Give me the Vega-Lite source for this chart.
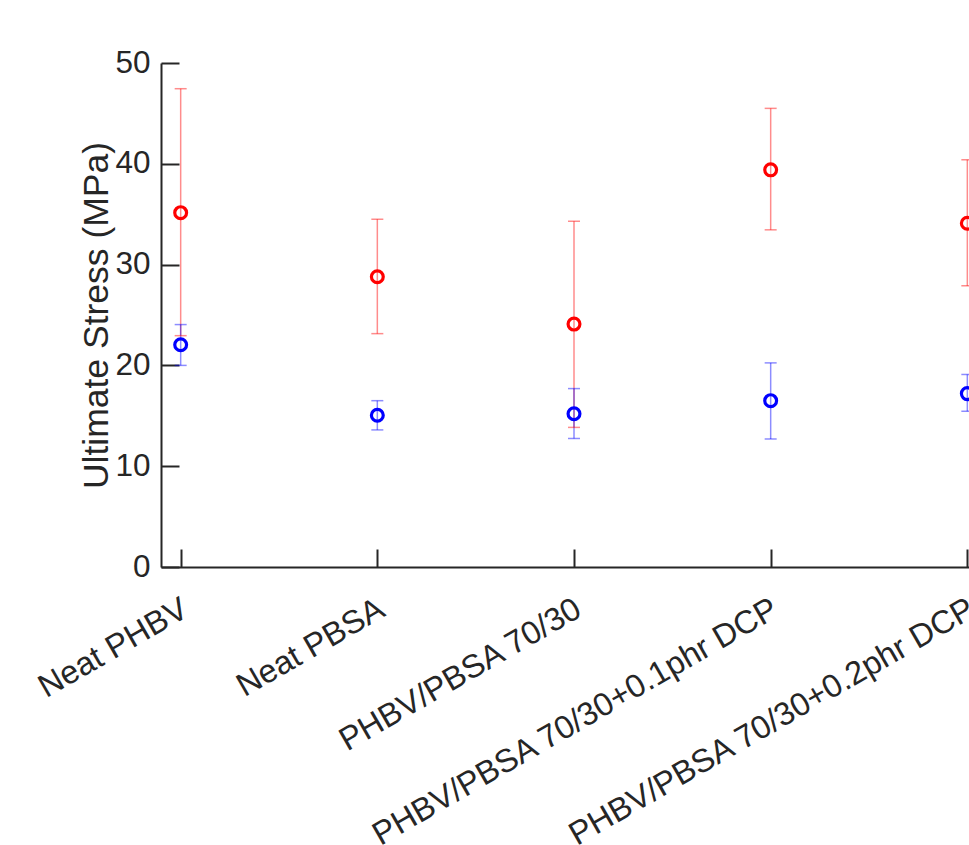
{
  "$schema": "https://vega.github.io/schema/vega-lite/v6.json",
  "width": 826,
  "height": 504,
  "autosize": {"type": "none"},
  "padding": {"left": 161, "top": 63, "right": -18, "bottom": 278},
  "background": "white",
  "config": {"view": {"stroke": null}, "font": "Liberation Sans"},
  "data": {
    "values": [
      {"sample": "Neat PHBV", "series": "Series 1", "mean": 35.15, "lo": 22.95, "hi": 47.45},
      {"sample": "Neat PHBV", "series": "Series 2", "mean": 22.05, "lo": 20.0, "hi": 24.05},
      {"sample": "Neat PBSA", "series": "Series 1", "mean": 28.8, "lo": 23.15, "hi": 34.5},
      {"sample": "Neat PBSA", "series": "Series 2", "mean": 15.05, "lo": 13.6, "hi": 16.5},
      {"sample": "PHBV/PBSA 70/30", "series": "Series 1", "mean": 24.1, "lo": 13.85, "hi": 34.3},
      {"sample": "PHBV/PBSA 70/30", "series": "Series 2", "mean": 15.2, "lo": 12.75, "hi": 17.7},
      {"sample": "PHBV/PBSA 70/30+0.1phr DCP", "series": "Series 1", "mean": 39.4, "lo": 33.45, "hi": 45.5},
      {"sample": "PHBV/PBSA 70/30+0.1phr DCP", "series": "Series 2", "mean": 16.5, "lo": 12.7, "hi": 20.25},
      {"sample": "PHBV/PBSA 70/30+0.2phr DCP", "series": "Series 1", "mean": 34.1, "lo": 27.9, "hi": 40.4},
      {"sample": "PHBV/PBSA 70/30+0.2phr DCP", "series": "Series 2", "mean": 17.2, "lo": 15.45, "hi": 19.1}
    ]
  },
  "encoding": {
    "x": {
      "field": "sample",
      "type": "nominal",
      "sort": null,
      "scale": {"type": "point", "padding": 0.1},
      "axis": {
        "title": null,
        "grid": false,
        "domainColor": "#262626",
        "domainWidth": 2,
        "tickColor": "#262626",
        "tickWidth": 2,
        "tickSize": -18,
        "labelAngle": -30,
        "labelAlign": "right",
        "labelBaseline": "middle",
        "labelFontSize": 32.5,
        "labelColor": "#262626",
        "labelPadding": 57,
        "labelOffset": 4,
        "labelLimit": 0,
        "labelOverlap": false
      }
    },
    "color": {
      "field": "series",
      "type": "nominal",
      "scale": {"domain": ["Series 1", "Series 2"], "range": ["#ff0000", "#0000ff"]},
      "legend": null
    }
  },
  "layer": [
    {
      "mark": {"type": "rule", "strokeWidth": 1.5, "opacity": 0.45},
      "encoding": {
        "y": {
          "field": "lo",
          "type": "quantitative",
          "scale": {"domain": [0, 50], "nice": false},
          "axis": {
            "title": "Ultimate Stress (MPa)",
            "values": [0, 10, 20, 30, 40, 50],
            "grid": false,
            "domainColor": "#262626",
            "domainWidth": 2,
            "tickColor": "#262626",
            "tickWidth": 2,
            "tickSize": -18,
            "labelFontSize": 31.5,
            "labelColor": "#262626",
            "labelPadding": 29,
            "titleFontSize": 35.5,
            "titleFontWeight": "normal",
            "titleColor": "#262626",
            "titleAngle": -90,
            "titleBaseline": "alphabetic",
            "titleAlign": "center",
            "titleX": -54,
            "titleY": 252
          }
        },
        "y2": {"field": "hi"}
      }
    },
    {
      "mark": {"type": "tick", "size": 12, "thickness": 1.5, "opacity": 0.45},
      "encoding": {"y": {"field": "lo", "type": "quantitative"}}
    },
    {
      "mark": {"type": "tick", "size": 12, "thickness": 1.5, "opacity": 0.45},
      "encoding": {"y": {"field": "hi", "type": "quantitative"}}
    },
    {
      "mark": {"type": "point", "shape": "circle", "filled": false, "size": 140, "strokeWidth": 3.2, "opacity": 1},
      "encoding": {"y": {"field": "mean", "type": "quantitative"}}
    }
  ]
}
